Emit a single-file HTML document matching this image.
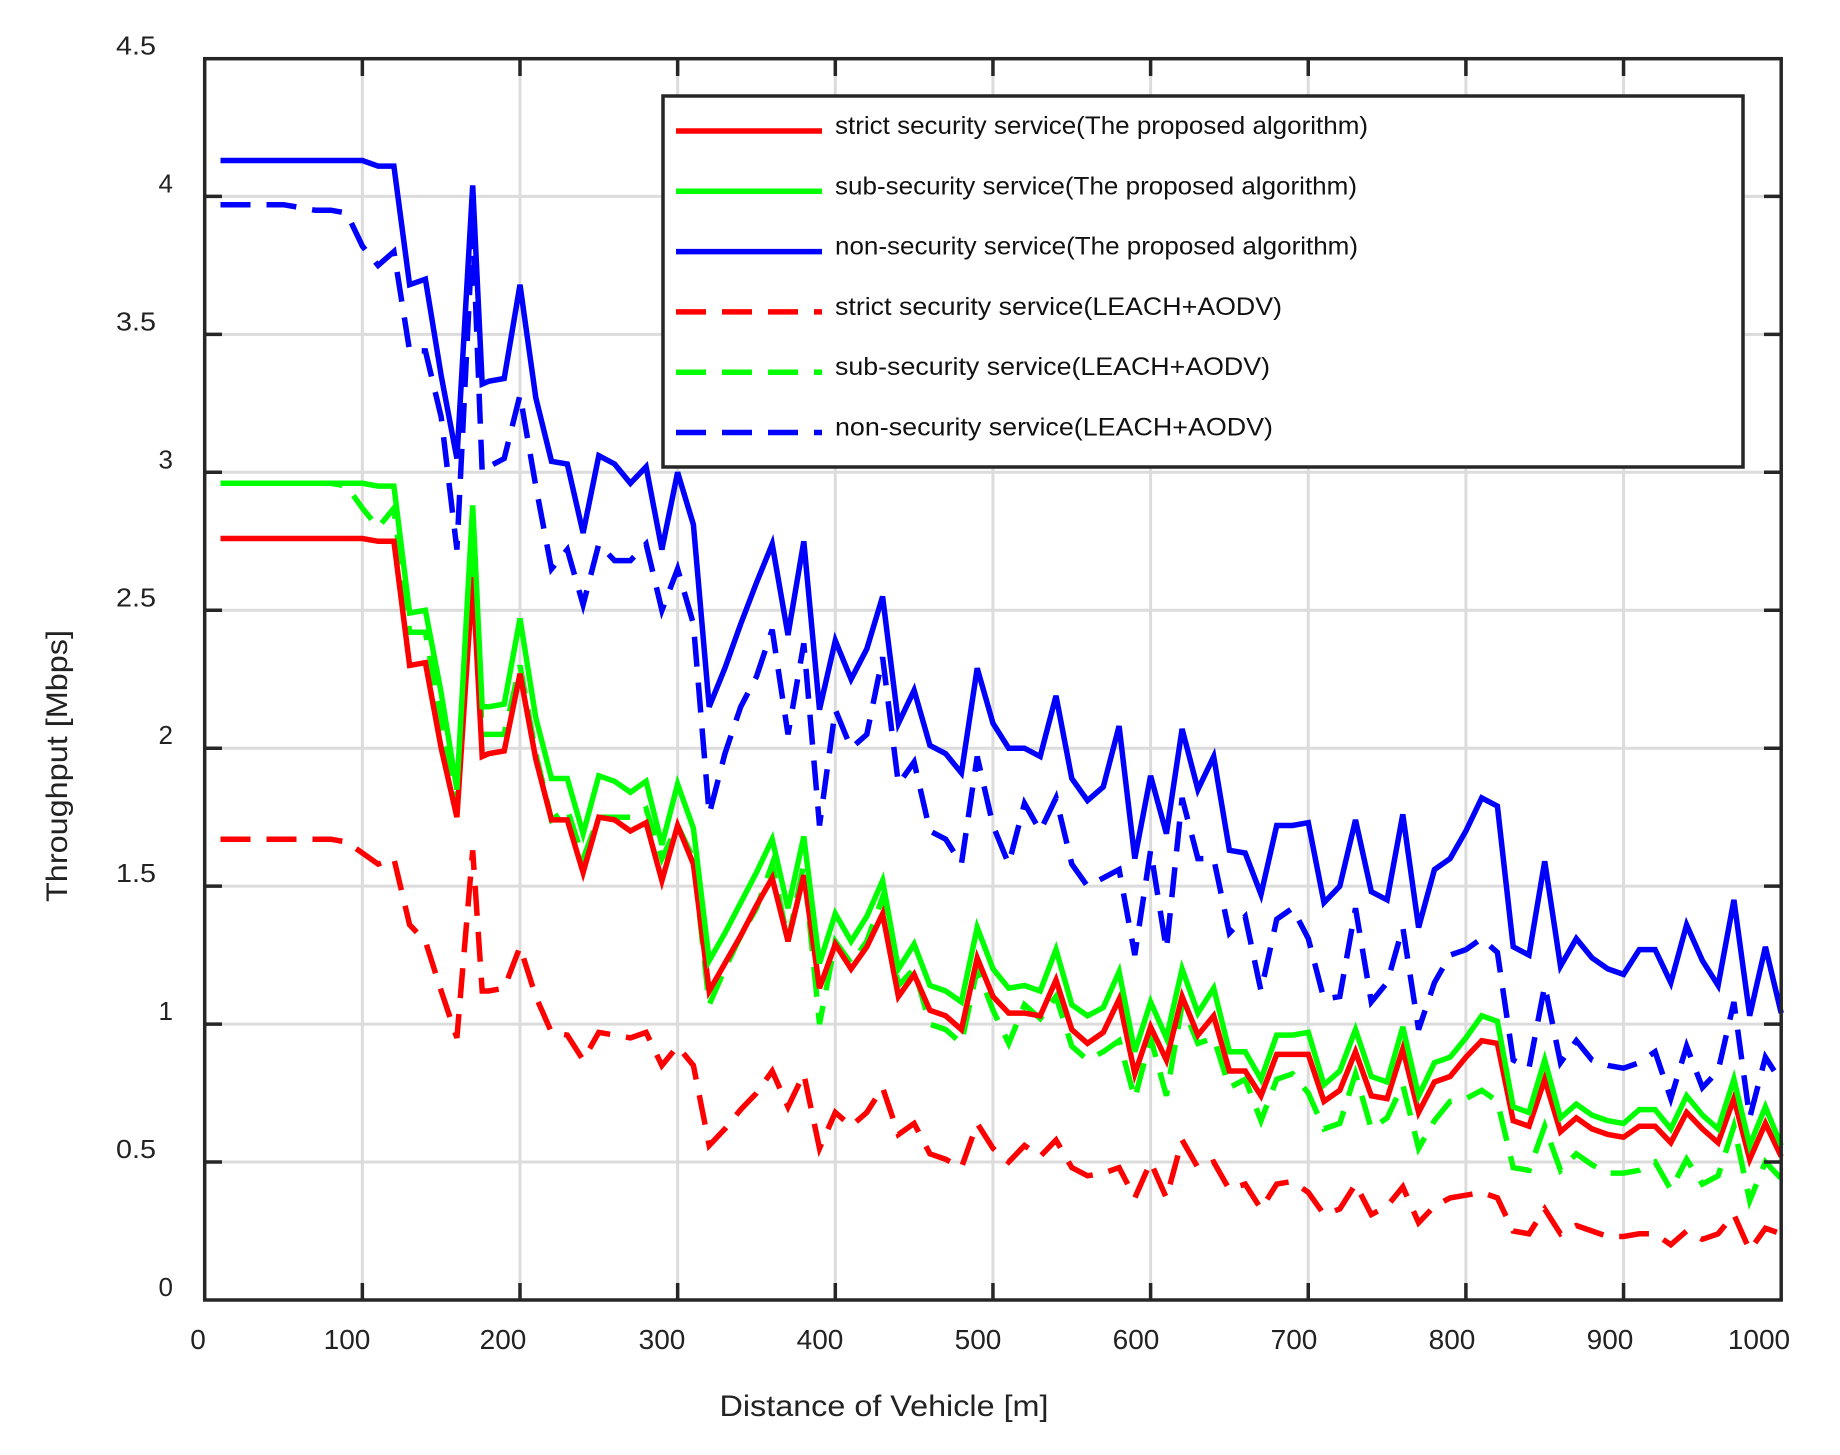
<!DOCTYPE html>
<html><head><meta charset="utf-8"><style>
html,body{margin:0;padding:0;background:#fff;}
svg{display:block;font-family:"Liberation Sans",Arial,sans-serif;}
</style></head><body>
<svg id="s" width="1840" height="1455" viewBox="0 0 1840 1455" xmlns="http://www.w3.org/2000/svg">
<rect width="1840" height="1455" fill="#fff"/>
<g id="grid" stroke="#dcdcdc" stroke-width="3"></g>
<g id="series" fill="none" stroke-width="5.5" stroke-linejoin="miter"></g>
<g id="ticks" stroke="#262626" stroke-width="3.5"></g>
<rect x="204.7" y="58.7" width="1576.5" height="1241.3" fill="none" stroke="#262626" stroke-width="3.5"/>
<g id="labels" fill="#222" font-size="28"></g>
<text x="884" y="1416" font-size="30" fill="#222" text-anchor="middle" textLength="329" lengthAdjust="spacingAndGlyphs">Distance of Vehicle [m]</text>
<text transform="translate(67,766) rotate(-90)" font-size="30" fill="#222" text-anchor="middle" textLength="272" lengthAdjust="spacingAndGlyphs">Throughput [Mbps]</text>
<rect x="663" y="96" width="1080" height="371" fill="#fff" stroke="#262626" stroke-width="3.5"/>
<g id="legend"></g>
</svg>
<script>
var X=function(x){return 204.7+x*1.5765;}, Y=function(y){return 1300-y*275.9;};
var ns="http://www.w3.org/2000/svg";
function el(p,t,a,txt){var e=document.createElementNS(ns,t);for(var k in a)e.setAttribute(k,a[k]);if(txt)e.textContent=txt;document.getElementById(p).appendChild(e);return e;}
for(var i=1;i<=9;i++){var x=X(i*100);el("grid","line",{x1:x,y1:58.7,x2:x,y2:1300});el("ticks","line",{x1:x,y1:1300,x2:x,y2:1283});el("ticks","line",{x1:x,y1:58.7,x2:x,y2:76});}
for(var j=1;j<=8;j++){var y=Y(j*0.5);el("grid","line",{x1:204.7,y1:y,x2:1781,y2:y});el("ticks","line",{x1:204.7,y1:y,x2:222,y2:y});el("ticks","line",{x1:1781,y1:y,x2:1764,y2:y});}
var xl=[[0,198],[100,347],[200,503],[300,662],[400,820],[500,978],[600,1136],[700,1294],[800,1452],[900,1610],[1000,1759]];
xl.forEach(function(d){el("labels","text",{x:d[1],y:1349,"text-anchor":"middle"},String(d[0]));});
for(var j=0;j<=9;j++){var v=j*0.5,s=(j%2==0)?String(v):v.toFixed(1);var a={y:Y(v)-4,"text-anchor":"end","font-size":"26"};
 if(j%2==0){a.x=173;}else{a.x=156;a.textLength=40;a.lengthAdjust="spacingAndGlyphs";}
 el("labels","text",a,s);}
var xs=[10,20,30,40,50,60,70,80,90,100,110,120,130,140,150,160,170,176,180,190];
for(var k=200;k<=1000;k+=10)xs.push(k);
var D={
bs:[4.13,4.13,4.13,4.13,4.13,4.13,4.13,4.13,4.13,4.13,4.11,4.11,3.68,3.70,3.35,3.05,4.04,3.32,3.33,3.34,
3.68,3.27,3.04,3.03,2.78,3.06,3.03,2.96,3.02,2.72,3.00,2.81,2.15,2.29,2.45,2.60,2.74,2.41,2.75,2.14,2.39,2.25,2.36,2.55,2.09,2.21,2.01,1.98,1.91,2.29,2.09,2.00,2.00,1.97,2.19,1.89,1.81,1.86,2.08,1.60,1.90,1.69,2.07,1.85,1.97,1.63,1.62,1.47,1.72,1.72,1.73,1.44,1.50,1.74,1.48,1.45,1.76,1.35,1.56,1.60,1.70,1.82,1.79,1.28,1.25,1.59,1.21,1.31,1.24,1.20,1.18,1.27,1.27,1.15,1.36,1.23,1.14,1.45,1.03,1.28,1.04],
rs:[2.76,2.76,2.76,2.76,2.76,2.76,2.76,2.76,2.76,2.76,2.75,2.75,2.30,2.31,2.00,1.75,2.62,1.97,1.98,1.99,
2.27,1.96,1.74,1.74,1.55,1.75,1.74,1.70,1.73,1.52,1.72,1.58,1.12,1.22,1.32,1.43,1.53,1.30,1.54,1.13,1.29,1.20,1.28,1.40,1.10,1.18,1.05,1.03,0.98,1.24,1.10,1.04,1.04,1.03,1.16,0.98,0.93,0.97,1.09,0.82,0.99,0.87,1.10,0.96,1.03,0.83,0.83,0.74,0.89,0.89,0.89,0.72,0.76,0.90,0.74,0.73,0.91,0.68,0.79,0.81,0.88,0.94,0.93,0.65,0.63,0.80,0.61,0.66,0.62,0.60,0.59,0.63,0.63,0.57,0.68,0.62,0.57,0.73,0.51,0.64,0.52],
gs:[2.96,2.96,2.96,2.96,2.96,2.96,2.96,2.96,2.96,2.96,2.95,2.95,2.49,2.50,2.20,1.85,2.88,2.15,2.15,2.16,
2.47,2.11,1.89,1.89,1.69,1.90,1.88,1.84,1.88,1.65,1.87,1.71,1.23,1.33,1.44,1.55,1.67,1.42,1.68,1.22,1.40,1.30,1.39,1.52,1.20,1.29,1.14,1.12,1.08,1.35,1.20,1.13,1.14,1.12,1.27,1.07,1.03,1.06,1.19,0.90,1.08,0.95,1.20,1.04,1.13,0.90,0.90,0.80,0.96,0.96,0.97,0.78,0.83,0.98,0.81,0.79,0.99,0.74,0.86,0.88,0.95,1.03,1.01,0.70,0.68,0.87,0.66,0.71,0.67,0.65,0.64,0.69,0.69,0.62,0.74,0.67,0.62,0.80,0.56,0.70,0.56],
bd:[3.97,3.97,3.97,3.97,3.97,3.96,3.95,3.95,3.94,3.82,3.75,3.80,3.44,3.44,3.20,2.72,3.88,3.00,3.02,3.05,
3.28,2.95,2.65,2.72,2.52,2.74,2.68,2.68,2.74,2.50,2.65,2.45,1.76,1.98,2.15,2.26,2.43,2.05,2.38,1.72,2.14,2.00,2.05,2.33,1.87,1.95,1.70,1.67,1.58,1.97,1.72,1.58,1.80,1.70,1.82,1.58,1.50,1.53,1.56,1.25,1.63,1.27,1.82,1.60,1.60,1.33,1.39,1.12,1.38,1.42,1.31,1.09,1.10,1.42,1.08,1.15,1.35,0.98,1.15,1.25,1.27,1.31,1.26,0.87,0.84,1.14,0.86,0.94,0.87,0.85,0.84,0.86,0.90,0.73,0.92,0.77,0.83,1.08,0.66,0.88,0.79],
gd:[2.96,2.96,2.96,2.96,2.96,2.96,2.96,2.96,2.95,2.87,2.80,2.87,2.42,2.42,2.10,1.78,2.80,2.05,2.05,2.05,
2.30,1.98,1.74,1.78,1.60,1.75,1.75,1.75,1.78,1.60,1.72,1.60,1.07,1.20,1.32,1.42,1.58,1.30,1.58,1.00,1.30,1.22,1.30,1.46,1.14,1.20,1.00,0.98,0.93,1.20,1.05,0.93,1.07,1.02,1.10,0.92,0.87,0.90,0.94,0.73,0.95,0.74,1.07,0.93,0.95,0.77,0.80,0.65,0.80,0.82,0.75,0.62,0.64,0.82,0.62,0.66,0.78,0.55,0.65,0.72,0.73,0.76,0.72,0.48,0.47,0.63,0.47,0.53,0.49,0.46,0.46,0.47,0.50,0.40,0.51,0.42,0.45,0.63,0.36,0.50,0.44],
rd:[1.67,1.67,1.67,1.67,1.67,1.67,1.67,1.67,1.66,1.62,1.58,1.60,1.36,1.30,1.12,0.95,1.63,1.12,1.12,1.13,
1.28,1.10,0.97,0.96,0.87,0.97,0.96,0.95,0.97,0.85,0.92,0.85,0.56,0.62,0.69,0.75,0.83,0.70,0.82,0.55,0.68,0.63,0.68,0.77,0.60,0.64,0.53,0.51,0.48,0.64,0.55,0.50,0.56,0.52,0.58,0.48,0.45,0.46,0.48,0.37,0.50,0.37,0.58,0.48,0.50,0.40,0.42,0.33,0.42,0.43,0.39,0.31,0.33,0.42,0.31,0.34,0.41,0.28,0.34,0.37,0.38,0.39,0.37,0.25,0.24,0.33,0.24,0.27,0.25,0.23,0.23,0.24,0.24,0.20,0.25,0.22,0.24,0.31,0.18,0.26,0.24]
};
var styles=[["rd","#ff0000",1],["gd","#00ff00",1],["bd","#0000ff",1],["rs","#ff0000",0],["gs","#00ff00",0],["bs","#0000ff",0]];
styles.forEach(function(s){var d=D[s[0]],p="";for(var i=0;i<d.length&&i<xs.length;i++){p+=(i?"L":"M")+X(xs[i]).toFixed(1)+","+Y(d[i]).toFixed(1);}
 var a={d:p,stroke:s[1]};if(s[2])a["stroke-dasharray"]="30 16";el("series","path",a);});
var leg=[["#ff0000",0,"strict security service(The proposed algorithm)",533],["#00ff00",0,"sub-security service(The proposed algorithm)",522],["#0000ff",0,"non-security service(The proposed algorithm)",523],["#ff0000",1,"strict security service(LEACH+AODV)",447],["#00ff00",1,"sub-security service(LEACH+AODV)",435],["#0000ff",1,"non-security service(LEACH+AODV)",438]];
leg.forEach(function(l,i){var y=131+i*60.3;var a={x1:676,y1:y,x2:822,y2:y,stroke:l[0],"stroke-width":5.5};if(l[1])a["stroke-dasharray"]="30 16";el("legend","line",a);
 el("legend","text",{x:835,y:y+3,"font-size":"25",fill:"#111",textLength:l[3],lengthAdjust:"spacingAndGlyphs"},l[2]);});
</script>
</body></html>
